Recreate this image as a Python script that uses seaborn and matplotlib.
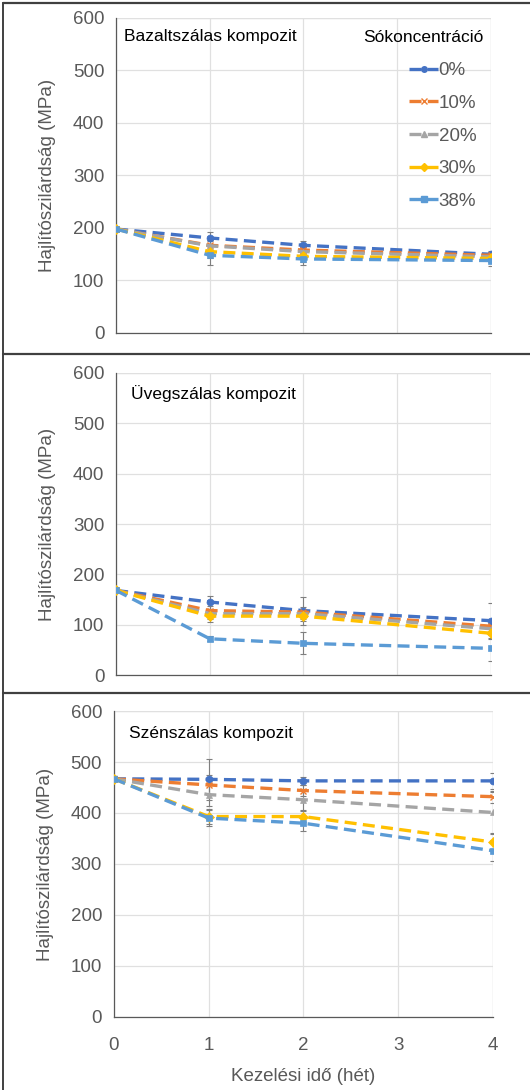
import pandas as pd
import seaborn as sns
import matplotlib.pyplot as plt
from matplotlib.lines import Line2D

# Data
weeks = [0, 1, 2, 4]
concentrations = ['0%', '10%', '20%', '30%', '38%']

basalt = {
    '0%':  [198, 181, 167, 150],
    '10%': [198, 167, 158, 148],
    '20%': [198, 166, 155, 145],
    '30%': [198, 155, 146, 142],
    '38%': [198, 148, 141, 138],
}
basalt_err = {
    '0%':  [4, 12, 8, 7],
    '10%': [4, 10, 8, 7],
    '20%': [4, 10, 8, 7],
    '30%': [4, 12, 10, 7],
    '38%': [4, 18, 12, 10],
}

glass = {
    '0%':  [168, 145, 128, 108],
    '10%': [168, 128, 125, 97],
    '20%': [168, 122, 122, 92],
    '30%': [168, 117, 117, 83],
    '38%': [168, 72, 63, 53],
}
glass_err = {
    '0%':  [3, 13, 28, 36],
    '10%': [3, 10, 10, 10],
    '20%': [3, 10, 10, 10],
    '30%': [3, 12, 10, 10],
    '38%': [3, 5, 22, 26],
}

carbon = {
    '0%':  [467, 466, 463, 463],
    '10%': [467, 455, 444, 432],
    '20%': [467, 436, 426, 401],
    '30%': [467, 393, 393, 343],
    '38%': [467, 390, 380, 326],
}
carbon_err = {
    '0%':  [5, 40, 8, 15],
    '10%': [5, 20, 10, 12],
    '20%': [5, 22, 20, 40],
    '30%': [5, 15, 10, 15],
    '38%': [5, 15, 15, 20],
}

panel_titles = ['Bazaltszálas kompozit', 'Üvegszálas kompozit', 'Szénszálas kompozit']
y_label = 'Hajlítószilárdság (MPa)'
x_label = 'Kezelési idő (hét)'
legend_title = 'Sókoncentráció'

colors = {'0%': '#4472C4', '10%': '#ED7D31', '20%': '#A5A5A5',
          '30%': '#FFC000', '38%': '#5B9BD5'}
markers = {'0%': 'o', '10%': 'x', '20%': '^', '30%': 'D', '38%': 's'}
dash = (0, (3.6, 1.9))

sns.set_style('white')
plt.rcParams['font.family'] = ['Liberation Sans', 'DejaVu Sans']

fig = plt.figure(figsize=(5.3, 10.9), dpi=100)

# axes positions in figure fractions (left, bottom, width, height)
positions = [
    [0.219, 0.6945, 0.707, 0.289],
    [0.219, 0.3807, 0.707, 0.2771],
    [0.215, 0.067, 0.715, 0.2807],
]
title_pos = [(0.02, 0.965), (0.04, 0.96), (0.04, 0.95)]

grey_text = '#595959'

for idx, (vals, errs) in enumerate([(basalt, basalt_err), (glass, glass_err), (carbon, carbon_err)]):
    ax = fig.add_axes(positions[idx])

    for c in concentrations:
        df = pd.DataFrame({'week': weeks, 'value': vals[c]})
        ax.errorbar(weeks, vals[c], yerr=errs[c], fmt='none', ecolor='#7f7f7f',
                    elinewidth=0.8, capsize=2, capthick=0.8, zorder=2)
        sns.lineplot(data=df, x='week', y='value', color=colors[c], marker=markers[c],
                     linestyle=dash, linewidth=2.4, markersize=5,
                     markeredgewidth=1.0 if markers[c] == 'x' else 0.5,
                     markeredgecolor=colors[c], ax=ax, zorder=3)

    ax.set_xlim(0, 4)
    ax.set_ylim(0, 600)
    ax.set_xticks([0, 1, 2, 3, 4])
    ax.set_yticks(range(0, 601, 100))
    ax.grid(True, color='#e0e0e0', linewidth=0.9)
    ax.set_axisbelow(True)
    for s in ['top', 'right']:
        ax.spines[s].set_visible(False)
    for s in ['left', 'bottom']:
        ax.spines[s].set_color('#595959')
        ax.spines[s].set_linewidth(0.9)
    ax.tick_params(axis='both', direction='inout', length=9, width=0.9,
                   color='#595959', labelcolor=grey_text, labelsize=13.5)
    ax.tick_params(axis='y', pad=4)
    ax.axvline(4, color='#e0e0e0', linewidth=0.9, zorder=0)
    ax.axhline(600, color='#e0e0e0', linewidth=0.9, zorder=0)

    ax.set_ylabel(y_label, fontsize=13.5, color=grey_text, labelpad=12)
    if idx == 2:
        ax.set_xlabel(x_label, fontsize=13.5, color=grey_text, labelpad=10)
        ax.tick_params(axis='x', pad=10)
    else:
        ax.set_xlabel('')
        ax.set_xticklabels([])

    ax.text(title_pos[idx][0], title_pos[idx][1], panel_titles[idx],
            transform=ax.transAxes, fontsize=12.5, color='black', va='top', ha='left')

    if idx == 0:
        handles = [Line2D([0], [0], color=colors[c], marker=markers[c], markersize=4,
                          linestyle=dash, linewidth=2.4) for c in concentrations]
        leg = ax.legend(handles, concentrations, loc='upper left',
                        bbox_to_anchor=(0.783, 0.86), frameon=False, fontsize=13.5,
                        handlelength=1.5, handletextpad=0.05, labelspacing=0.83,
                        borderaxespad=0, borderpad=0)
        for t in leg.get_texts():
            t.set_color(grey_text)
        ax.text(0.98, 0.937, legend_title, transform=ax.transAxes, fontsize=12.5,
                color='black', ha='right', va='center')

# panel frame lines
frame_color = '#404040'
for y in [1 - 3 / 1090, 1 - 354 / 1090, 1 - 693 / 1090]:
    fig.add_artist(Line2D([3 / 530, 1], [y, y], color=frame_color, linewidth=1.6,
                          transform=fig.transFigure))
fig.add_artist(Line2D([3 / 530, 3 / 530], [0, 1 - 3 / 1090], color=frame_color,
                      linewidth=1.4, transform=fig.transFigure))

fig.savefig('out.png', dpi=100)
